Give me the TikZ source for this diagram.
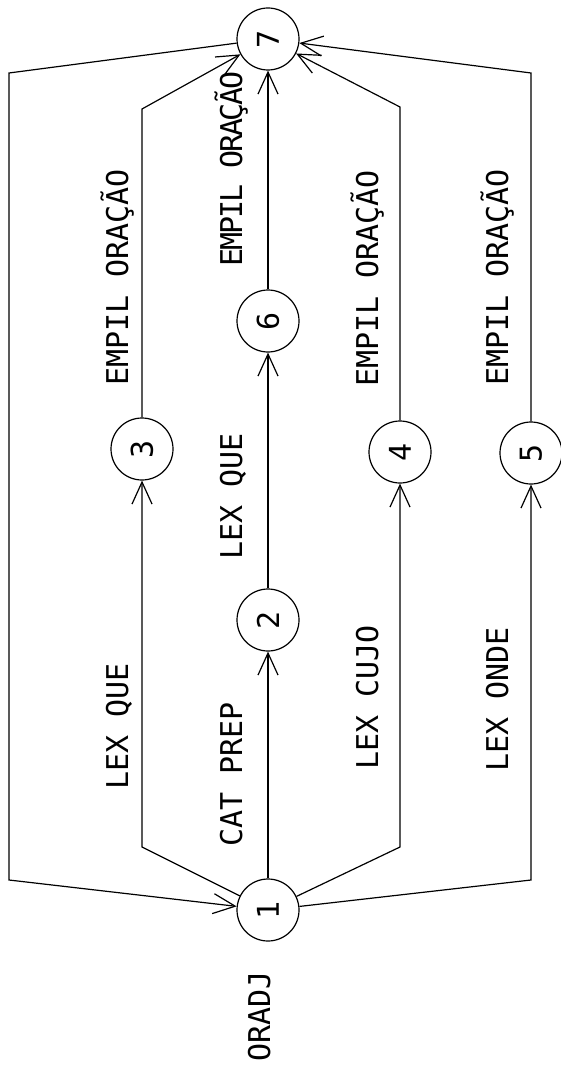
\documentclass[tikz,border=0pt]{standalone}
\usepackage{fontspec}
\usepackage{tikz}
\usetikzlibrary{arrows.meta}
\newfontfamily\typewr{DejaVu Sans Mono}
\newfontfamily\typewrtight[LetterSpace=-7]{DejaVu Sans Mono}

\begin{document}
\begin{tikzpicture}[x=1pt, y=-1pt,
  state/.style={draw, circle, minimum size=62pt, inner sep=0pt, line width=1.2pt, rotate=90,
    font=\typewr\fontsize{30}{36}\selectfont},
  link/.style={line width=1.2pt, -{Straight Barb[length=22pt, width=20pt]}},
  plain/.style={line width=1.2pt},
  lbl/.style={rotate=90, anchor=base west, inner sep=0pt, font=\typewr\fontsize{30}{36}\selectfont}]

\useasboundingbox (0,0) rectangle (561,1067);

% states
\node[state] (n1) at (268,910) {1};
\node[state] (n2) at (268,620) {2};
\node[state] (n3) at (142,449) {3};
\node[state] (n4) at (400,452) {4};
\node[state] (n5) at (531,453) {5};
\node[state] (n6) at (268,321) {6};
\node[state] (n7) at (268,39) {7};

% corners
\coordinate (tl) at (9,73);
\coordinate (bl) at (9,880);
\coordinate (tr) at (531,73);
\coordinate (br) at (531,880);
\coordinate (b3) at (142,847);
\coordinate (t3) at (142,109);
\coordinate (b4) at (400,847);
\coordinate (t4) at (400,107);

% arcs
\draw[link] (n7) -- (tl) -- (bl) -- (n1);
\draw[link] (n1) -- (b3) -- (n3);
\draw[link] (n3) -- (t3) -- (n7);
\draw[link] (n1) -- (n2);
\draw[link] (n2) -- (n6);
\draw[link] (n6) -- (n7);
\draw[link] (n1) -- (b4) -- (n4);
\draw[link] (n4) -- (t4) -- (n7);
\draw[link] (n1) -- (br) -- (n5);
\draw[link] (n5) -- (tr) -- (n7);

% labels
\node[lbl] (l13) at (128,790) {LEX QUE};
\node[lbl] (l37) at (128,386) {EMPIL ORAÇÃO};
\node[lbl] (l12) at (242,847) {CAT PREP};
\node[lbl] (l26) at (242,560) {LEX QUE};
\node[lbl, font=\typewrtight\fontsize{30}{36}\selectfont] (l67) at (242,267) {EMPIL ORAÇÃO};
\node[lbl] (l14) at (378,770) {LEX CUJO};
\node[lbl] (l47) at (378,387) {EMPIL ORAÇÃO};
\node[lbl] (l15) at (508,772) {LEX ONDE};
\node[lbl] (l57) at (508,386) {EMPIL ORAÇÃO};
\node[lbl] (oradj) at (270,1062) {ORADJ};

\end{tikzpicture}
\end{document}
